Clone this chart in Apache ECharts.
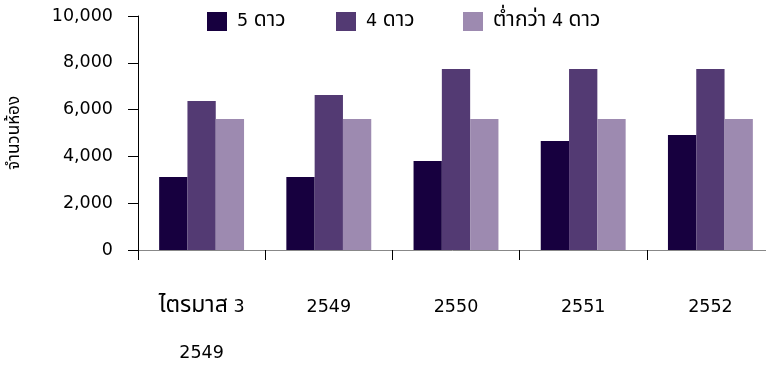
<!DOCTYPE html>
<html>
<head>
<meta charset="utf-8">
<script src="https://cdn.jsdelivr.net/npm/echarts@6/dist/echarts.min.js"></script>
<style>html,body{margin:0;padding:0;background:#fff}#c{width:766px;height:365px}</style>
</head>
<body>
<div id="c"></div>
<script>
var categories = ['ไตรมาส 3\n2549', '2549', '2550', '2551', '2552'];
var seriesNames = ['5 ดาว', '4 ดาว', 'ต่ำกว่า 4 ดาว'];
var fiveStar = [3120, 3120, 3800, 4660, 4910];
var fourStar = [6370, 6620, 7740, 7740, 7740];
var belowFour = [5600, 5600, 5600, 5600, 5600];
var yTicks = [0, 2000, 4000, 6000, 8000, 10000];
var yAxisName = 'จำนวนห้อง';
var colors = ['#17003F', '#533A73', '#9D8AB0'];

var FONT = '"DejaVu Sans", "Noto Sans", sans-serif';
var THAI = '"Noto Sans Thai", "Noto Sans", "DejaVu Sans", sans-serif';
function thaiRich(s) {
  return s.replace(/[\u0E00-\u0E7F]+/g, function (m) { return '{t|' + m + '}'; });
}
var chart = echarts.init(document.getElementById('c'));
function legendAt(i, left) {
  return {
    data: [seriesNames[i]], left: left, top: 11, itemWidth: 20, itemHeight: 19,
    itemGap: 0, icon: 'rect', padding: 0,
    formatter: function (n) { return '{g| }' + thaiRich(n); },
    textStyle: { fontFamily: FONT, fontSize: 17.5, color: '#000',
      rich: { t: { fontFamily: THAI, fontSize: 21, color: '#000' },
              g: { width: 5, fontSize: 10 } } }
  };
}
var vals = [fiveStar, fourStar, belowFour];
chart.setOption({
  animation: false,
  legend: [legendAt(0, 207), legendAt(1, 336), legendAt(2, 463)],
  grid: { left: 138, top: 16, bottom: 115, right: -8, outerBoundsMode: 'none', containLabel: false },
  xAxis: {
    type: 'category', data: categories,
    axisLine: { lineStyle: { color: '#888', width: 1 } },
    axisTick: { show: true, length: 10, lineStyle: { color: '#000' } },
    axisLabel: { fontFamily: FONT, fontSize: 17.5, color: '#000', margin: 34, lineHeight: 46, interval: 0,
      formatter: function (v) { return thaiRich(v); },
      rich: { t: { fontFamily: THAI, fontSize: 23, color: '#000', lineHeight: 46 } } }
  },
  yAxis: {
    type: 'value', min: yTicks[0], max: yTicks[yTicks.length - 1], interval: 2000,
    name: '{t|' + yAxisName + '}', nameLocation: 'middle', nameGap: 114, nameRotate: 90,
    nameTextStyle: { fontFamily: THAI, fontSize: 17, color: '#000',
      rich: { t: { fontFamily: THAI, fontSize: 17, color: '#000' } } },
    axisLine: { show: true, lineStyle: { color: '#000' } },
    axisTick: { show: true, length: 10, lineStyle: { color: '#000' } },
    splitLine: { show: false },
    axisLabel: { fontFamily: FONT, fontSize: 17.5, color: '#000', margin: 25,
      formatter: function (v) { return v.toLocaleString('en-US'); } }
  },
  series: vals.map(function (d, i) {
    return { name: seriesNames[i], type: 'bar', data: d, barWidth: 28.3, barGap: '0%',
      itemStyle: { color: colors[i] } };
  })
});
</script>
</body>
</html>
